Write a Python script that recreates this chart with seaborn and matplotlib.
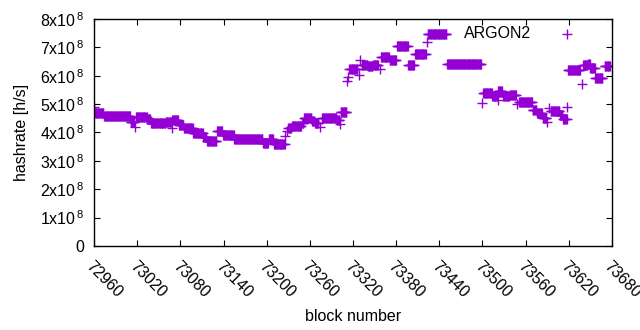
import matplotlib
matplotlib.use('Agg')
import matplotlib.pyplot as plt
import numpy as np
import pandas as pd
import seaborn as sns
from matplotlib.ticker import FuncFormatter, MultipleLocator

# hashrate steps: first block, last block, hashrate [1e8 h/s]
seg_start = [72960, 72961, 72974, 73011, 73017, 73018, 73034, 73039, 73060, 73068,
             73069, 73078, 73085, 73098, 73112, 73117, 73131, 73139, 73155, 73195,
             73203, 73210, 73226, 73228, 73230, 73235, 73249, 73252, 73263, 73267,
             73274, 73277, 73298, 73302, 73303, 73312, 73313, 73315, 73328, 73330,
             73332, 73341, 73348, 73357, 73359, 73371, 73381, 73397, 73406, 73423,
             73424, 73451, 73500, 73501, 73514, 73521, 73522, 73529, 73538, 73548,
             73551, 73570, 73576, 73584, 73590, 73592, 73595, 73608, 73612, 73618,
             73619, 73638, 73640, 73647, 73650, 73657, 73670]
seg_end = [72960, 72973, 73010, 73016, 73017, 73033, 73038, 73059, 73067, 73068,
           73077, 73084, 73097, 73111, 73116, 73130, 73138, 73154, 73194, 73202,
           73209, 73225, 73226, 73228, 73234, 73248, 73251, 73262, 73266, 73272,
           73274, 73297, 73301, 73302, 73311, 73312, 73313, 73326, 73328, 73330,
           73340, 73347, 73355, 73357, 73370, 73380, 73396, 73405, 73421, 73423,
           73450, 73498, 73500, 73513, 73520, 73521, 73527, 73537, 73547, 73548,
           73569, 73575, 73583, 73589, 73590, 73592, 73607, 73611, 73617, 73618,
           73636, 73638, 73646, 73649, 73656, 73667, 73677]
seg_rate = [4.90, 4.69, 4.57, 4.38, 4.20, 4.53, 4.46, 4.32, 4.37, 4.16,
            4.44, 4.26, 4.15, 3.97, 3.85, 3.69, 4.06, 3.91, 3.76, 3.62,
            3.76, 3.59, 3.88, 4.06, 4.16, 4.23, 4.35, 4.50, 4.42, 4.35,
            4.20, 4.50, 4.45, 4.30, 4.71, 5.83, 5.95, 6.23, 6.03, 6.56,
            6.38, 6.33, 6.38, 6.23, 6.65, 6.54, 7.04, 6.37, 6.76, 7.18,
            7.46, 6.40, 5.05, 5.38, 5.27, 5.15, 5.47, 5.29, 5.31, 4.99,
            5.09, 4.79, 4.68, 4.50, 4.38, 4.85, 4.75, 4.60, 4.47, 4.91,
            6.19, 5.70, 6.38, 6.43, 6.28, 5.91, 6.36]

x_ticks = list(range(72960, 73681, 60))
PURPLE = '#9400D3'


def hashrate_per_block() -> pd.DataFrame:
    blocks, rates = [], []
    for start, end, rate in zip(seg_start, seg_end, seg_rate):
        span = np.arange(start, end + 1)
        blocks.extend(span)
        rates.extend([rate * 1e8] * len(span))
    return pd.DataFrame({'block': blocks, 'hashrate': rates})


def sci_label(v, _pos):
    n = int(round(v / 1e8))
    return '0' if n == 0 else f'{n}x10$^{{\\,8}}$'


plt.rcParams['font.family'] = ['Liberation Sans', 'DejaVu Sans']
plt.rcParams['font.size'] = 11.5
plt.rcParams['mathtext.fontset'] = 'custom'
plt.rcParams['mathtext.rm'] = 'Liberation Sans'
plt.rcParams['mathtext.it'] = 'Liberation Sans'

df = hashrate_per_block()

fig = plt.figure(figsize=(6.4, 3.3), dpi=100)
ax = fig.add_axes([0.147, 0.2545, 0.809, 0.688])
sns.scatterplot(data=df, x='block', y='hashrate', marker='+', color=PURPLE,
                s=42, linewidth=1.0, label='ARGON2', ax=ax)

ax.set_xlim(72960, 73680)
ax.set_ylim(0, 8e8)
ax.set_xticks(x_ticks)
ax.yaxis.set_major_locator(MultipleLocator(1e8))
ax.yaxis.set_major_formatter(FuncFormatter(sci_label))
ax.tick_params(direction='in', length=4, width=0.8, top=True, right=True, colors='black')
ax.tick_params(axis='y', pad=7)
ax.tick_params(axis='x', pad=9)
for lbl in ax.get_xticklabels():
    lbl.set_rotation(-45)
    lbl.set_ha('left')
    lbl.set_rotation_mode('anchor')
for side in ax.spines.values():
    side.set_linewidth(1.0)

ax.set_xlabel('block number', labelpad=6)
ax.set_ylabel('hashrate [h/s]', labelpad=8)
leg = ax.legend(loc='upper right', bbox_to_anchor=(0.956, 0.996), borderaxespad=0,
                frameon=False, markerfirst=False, handletextpad=1.2)

fig.savefig('out.png', dpi=100)
